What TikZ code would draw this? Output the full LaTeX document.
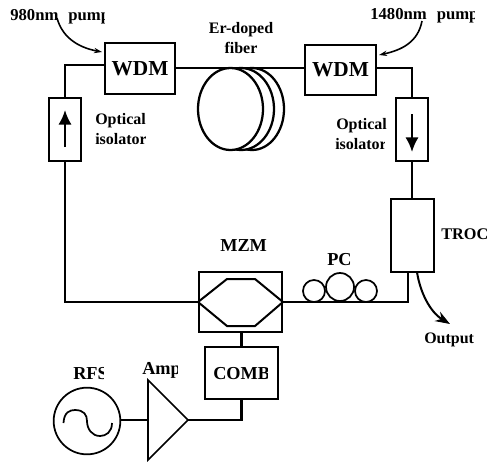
\documentclass[tikz,border=0pt]{standalone}
\usepackage{fontspec}
\setmainfont{Liberation Serif}
\usetikzlibrary{arrows.meta}
\tikzset{
 box/.style={draw,line width=1.7pt,inner sep=0pt,fill=white,font=\bfseries},
 wire/.style={line width=1.7pt},
 thin line/.style={line width=1.3pt},
 lab/.style={inner sep=0pt,anchor=base west,font=\bfseries\fontsize{12}{14}\selectfont,align=left},
 pumplab/.style={inner sep=0pt,anchor=base west,font=\bfseries\fontsize{12.5}{14}\selectfont},
 big/.style={inner sep=0pt,anchor=base west,font=\bfseries\fontsize{13.7}{15}\selectfont},
 pumparrow/.style={line width=1.2pt,-{Stealth[length=6pt,width=4pt]}},
 isoarrow/.style={line width=1.7pt,-{Latex[length=11pt,width=10pt]}},
}
\newcommand{\cliplabel}[6]{\begin{scope}\clip (#2,#3-30) rectangle (#4,#3+12);\node[#5] (#1) at (#2,#3) {#6};\end{scope}}
\begin{document}
\begin{tikzpicture}[x=0.75pt,y=-0.75pt]
\useasboundingbox[fill=white] (0,0) rectangle (488,461);
% coil
\coordinate (coilc) at (230.5,109);
\draw[wire,fill=white] (252,109) ellipse [x radius=32,y radius=41];
\draw[wire,fill=white] (241,109) ellipse [x radius=33,y radius=41];
\draw[wire,fill=white] (coilc) ellipse [x radius=32.5,y radius=41];
% boxes
\node[box,minimum width=52.5pt,minimum height=38pt,font=\bfseries\fontsize{16}{18}\selectfont] (wdml) at (140,68.5) {WDM};
\node[box,minimum width=53pt,minimum height=37.5pt,font=\bfseries\fontsize{16}{18}\selectfont] (wdmr) at (340.5,70) {WDM};
\node[box,minimum width=24pt,minimum height=47pt] (isol) at (65,129.5) {};
\node[box,minimum width=24pt,minimum height=47pt] (isor) at (412,129.5) {};
\node[box,minimum width=32pt,minimum height=55pt] (troc) at (412.5,235.5) {};
\node[box,minimum width=62pt,minimum height=45pt] (mzm) at (240.5,302) {};
\node[box,minimum width=55pt,minimum height=39pt] (combbox) at (241.5,373) {};
\node[draw,circle,line width=1.3pt,minimum size=50pt,inner sep=0pt] (rfs) at (87,421) {};
\coordinate (a1) at (148,380); \coordinate (a2) at (148,460); \coordinate (amptip) at (188,420);
\coordinate (ampin) at (148,420);
\draw[thin line,line join=miter] (a1) -- (amptip) -- (a2) -- cycle;
% loop
\coordinate (cl) at (65,65);
\coordinate (cr) at (412,68);
\draw[wire] (wdml.west |- cl) -- (cl) -- (isol.north);
\draw[wire] (isol.south) -- (65,302) -- (mzm.west);
\draw[wire] (wdml.east |- 0,68) -- (wdmr.west |- 0,68);
\draw[wire] (wdmr.east |- cr) -- (cr) -- (isor.north);
\draw[wire] (isor.south) -- (troc.north -| isor);
\coordinate (tb) at (408,272);
\draw[wire] (mzm.east) -- (408,302) -- (tb);
% MZM hexagon
\draw[line width=1.5pt] (mzm.west) -- (227,279) -- (255,279) -- (mzm.east) -- (255,326) -- (227,326) -- cycle;
% PC
\node[draw,circle,line width=1.3pt,minimum size=16.5pt,inner sep=0pt] (pc1) at (314,291) {};
\node[draw,circle,line width=1.3pt,minimum size=21pt,inner sep=0pt] (pc2) at (340,287) {};
\node[draw,circle,line width=1.3pt,minimum size=16.5pt,inner sep=0pt] (pc3) at (366,291) {};
% COMB connections
\draw[wire] (mzm.south -| combbox) -- (combbox.north);
\draw[wire] (combbox.south) |- (amptip);
\draw[wire] (rfs.east |- ampin) -- (ampin);
% sine
\draw[line width=1.3pt] (63.5,423) .. controls (64,412) and (70,410) .. (75,410) .. controls (84,410) and (87,415) .. (87,421) .. controls (87,429) and (92,436) .. (100,436) .. controls (106,436) and (112,432) .. (112,423);
% isolator arrows
\coordinate (iu1) at (65,147); \coordinate (iu2) at (65,110);
\draw[isoarrow] (iu1) -- (iu2);
\coordinate (id1) at (412,114); \coordinate (id2) at (412,152);
\draw[isoarrow] (id1) -- (id2);
% pump arrows
\coordinate (p1s) at (57,18); \coordinate (p2s) at (422,21);
\draw[pumparrow] (p1s) .. controls (62,36) and (76,47) .. (102,52);
\draw[pumparrow] (p2s) .. controls (418,42) and (402,50) .. (379,55);
% output arrow
\coordinate (os) at (417,272); \coordinate (oe) at (450,324);
\draw[line width=1.5pt,-{Stealth[length=11pt,width=8pt]}] (os) .. controls (420,292) and (430,312) .. (oe);
% labels
\cliplabel{l980}{10}{20}{104}{pumplab}{980nm\hspace{7.5pt}pump}
\cliplabel{l1480}{370}{19}{474}{pumplab}{1480nm\hspace{7.5pt}pump}
\node[lab,anchor=base] (er) at (241,33) {Er-doped};
\node[lab,anchor=base] (fib) at (241,53) {fiber};
\node[lab] (o1) at (95,124) {Optical};
\cliplabel{i1}{95}{144}{145}{lab}{isolator}
\node[lab] (o2) at (336,129) {Optical};
\cliplabel{i2}{335}{149}{384}{lab}{isolator}
\node[big] (mzml) at (220,251) {MZM};
\node[big] (pcl) at (327,265) {PC};
\node[big,font=\bfseries\fontsize{12.2}{15}\selectfont] (trocl) at (441,239) {TROC};
\node[lab] (out) at (424,343) {Output};
\cliplabel{combl}{213}{379}{267}{big}{COMB}
\cliplabel{rfsl}{73}{379}{103}{big}{RFS}
\cliplabel{ampl}{142}{374}{177}{big}{Amp}
\end{tikzpicture}
\end{document}
